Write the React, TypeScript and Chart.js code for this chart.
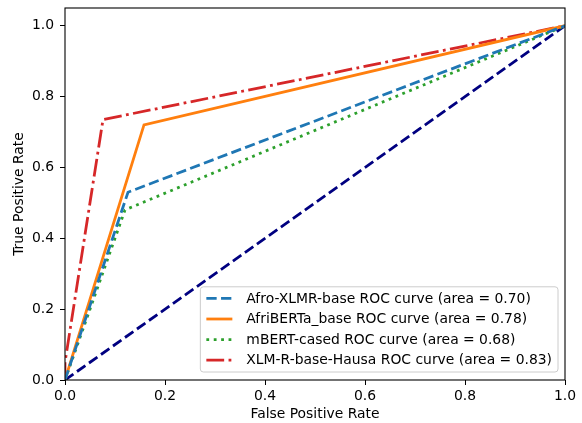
import React, { useEffect, useRef } from "react";
import { Chart, registerables } from "chart.js";

Chart.register(...registerables);

const xTicks = [0, 0.2, 0.4, 0.6, 0.8, 1.0];
const yTicks = [0, 0.2, 0.4, 0.6, 0.8, 1.0];

const afroFpr = [0, 0.126, 1];
const afroTpr = [0, 0.53, 1];
const afribertaFpr = [0, 0.158, 1];
const afribertaTpr = [0, 0.72, 1];
const mbertFpr = [0, 0.12, 1];
const mbertTpr = [0, 0.48, 1];
const xlmrFpr = [0, 0, 0.076, 1];
const xlmrTpr = [0, 0.05, 0.735, 1];
const diagFpr = [0, 1];
const diagTpr = [0, 1];

const labels = [
  "Afro-XLMR-base ROC curve (area = 0.70)",
  "AfriBERTa_base ROC curve (area = 0.78)",
  "mBERT-cased ROC curve (area = 0.68)",
  "XLM-R-base-Hausa ROC curve (area = 0.83)",
];

const FONT = "DejaVu Sans";
const LW = 2.78;

const pts = (xs: number[], ys: number[]) => xs.map((x, i) => ({ x, y: ys[i] }));

const frameAndLegend = {
  id: "frameAndLegend",
  afterDraw(chart: any) {
    const { ctx, chartArea } = chart;
    const { left, right, top, bottom } = chartArea;
    ctx.save();
    ctx.strokeStyle = "#000";
    ctx.lineWidth = 1.1;
    ctx.strokeRect(left, top, right - left, bottom - top);

    const fontSize = 13.9;
    ctx.font = `${fontSize}px "${FONT}"`;
    const items = chart.data.datasets.filter((d: any) => d.showInLegend);
    let maxW = 0;
    items.forEach((d: any) => {
      maxW = Math.max(maxW, ctx.measureText(d.label).width);
    });
    const padX = 6;
    const handleLen = 26;
    const gap = 14;
    const rowH = 20.6;
    const boxW = padX + handleLen + gap + maxW + 6;
    const boxH = rowH * (items.length - 1) + 23.4;
    const bx = right - 7 - boxW;
    const by = bottom - 8 - boxH;
    ctx.fillStyle = "rgba(255,255,255,0.8)";
    ctx.strokeStyle = "#cccccc";
    ctx.lineWidth = 1;
    ctx.beginPath();
    if ((ctx as any).roundRect) (ctx as any).roundRect(bx, by, boxW, boxH, 3);
    else ctx.rect(bx, by, boxW, boxH);
    ctx.fill();
    ctx.stroke();
    items.forEach((d: any, i: number) => {
      const cy = by + 11.6 + rowH * i;
      ctx.strokeStyle = d.borderColor;
      ctx.lineWidth = d.borderWidth;
      ctx.lineCap = "butt";
      ctx.setLineDash(d.borderDash || []);
      ctx.beginPath();
      ctx.moveTo(bx + padX, cy);
      ctx.lineTo(bx + padX + handleLen, cy);
      ctx.stroke();
      ctx.setLineDash([]);
      ctx.fillStyle = "#000";
      ctx.textBaseline = "middle";
      ctx.textAlign = "left";
      ctx.fillText(d.label, bx + padX + handleLen + gap, cy + 0.5);
    });
    ctx.restore();
  },
};

export default function App() {
  const ref = useRef<HTMLCanvasElement>(null);
  useEffect(() => {
    if (!ref.current) return;
    const mk = (label: string, xs: number[], ys: number[], color: string, dash: number[], legend = true) => ({
      label,
      data: pts(xs, ys),
      borderColor: color,
      backgroundColor: color,
      borderWidth: LW,
      borderDash: dash,
      borderCapStyle: "butt",
      pointRadius: 0,
      fill: false,
      tension: 0,
      showInLegend: legend,
    });
    const chart = new Chart(ref.current, {
      type: "line",
      data: {
        datasets: [
          mk(labels[0], afroFpr, afroTpr, "#1f77b4", [10.3, 4.4]),
          mk(labels[1], afribertaFpr, afribertaTpr, "#ff7f0e", []),
          mk(labels[2], mbertFpr, mbertTpr, "#2ca02c", [2.8, 4.6]),
          mk(labels[3], xlmrFpr, xlmrTpr, "#d62728", [17.8, 4.4, 2.8, 4.4]),
          mk("diag", diagFpr, diagTpr, "#000080", [10.3, 4.4], false),
        ] as any,
      },
      options: {
        animation: false,
        responsive: false,
        layout: { padding: { left: 0, right: 17, top: 8, bottom: 0 } },
        plugins: {
          legend: { display: false },
          tooltip: { enabled: false },
        },
        scales: {
          x: {
            type: "linear",
            min: 0,
            max: 1,
            afterBuildTicks: (s: any) => {
              s.ticks = xTicks.map((v) => ({ value: v }));
            },
            afterFit: (s: any) => {
              s.height = 43;
              s.paddingLeft = 0;
              s.paddingRight = 0;
            },
            grid: { drawOnChartArea: false, tickLength: 5, tickColor: "#000", tickWidth: 1 },
            border: { display: false },
            ticks: {
              color: "#000",
              font: { family: FONT, size: 13.9 },
              padding: 3,
              maxRotation: 0,
              callback: (v: any) => Number(v).toFixed(1),
            },
            title: {
              display: true,
              text: "False Positive Rate",
              color: "#000",
              font: { family: FONT, size: 13.9 },
              padding: { top: 2, bottom: 0 },
            },
          },
          y: {
            type: "linear",
            min: 0,
            max: 1.05,
            afterBuildTicks: (s: any) => {
              s.ticks = yTicks.map((v) => ({ value: v }));
            },
            afterFit: (s: any) => {
              s.width = 65;
              s.paddingTop = 0;
              s.paddingBottom = 0;
            },
            grid: { drawOnChartArea: false, tickLength: 5, tickColor: "#000", tickWidth: 1 },
            border: { display: false },
            ticks: {
              color: "#000",
              font: { family: FONT, size: 13.9 },
              padding: 6,
              callback: (v: any) => Number(v).toFixed(1),
            },
            title: {
              display: true,
              text: "True Positive Rate",
              color: "#000",
              font: { family: FONT, size: 13.9 },
              padding: { top: 11, bottom: 4 },
            },
          },
        },
      } as any,
      plugins: [frameAndLegend],
    });
    return () => chart.destroy();
  }, []);
  return (
    <div style={{ position: "fixed", left: 0, top: 0, width: 582, height: 423, background: "#fff" }}>
      <canvas ref={ref} width={582} height={423} style={{ width: 582, height: 423, display: "block" }} />
    </div>
  );
}
